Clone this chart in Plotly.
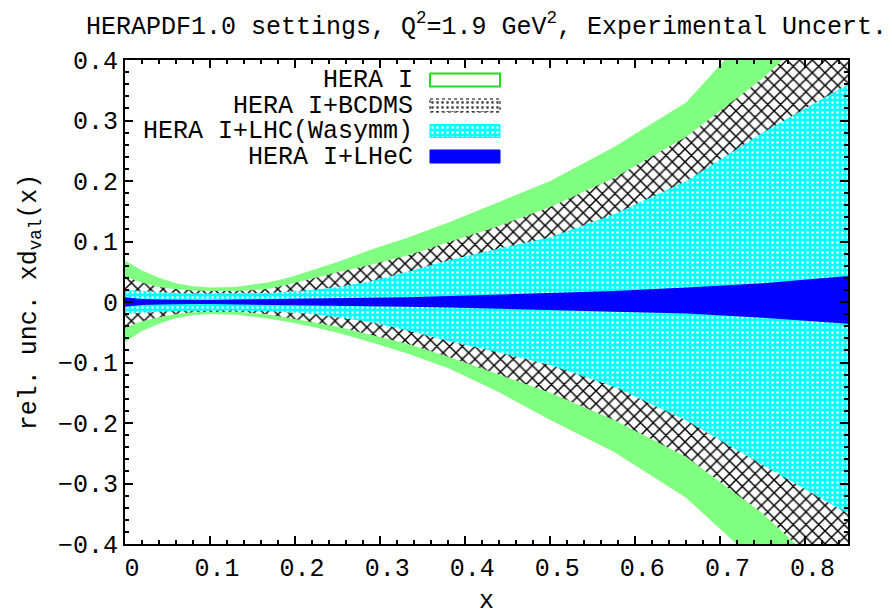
import plotly.graph_objects as go

# ---------------- data ----------------
x_vals = [0.0, 0.02, 0.04, 0.06, 0.08, 0.10, 0.13, 0.166, 0.192, 0.22, 0.25,
          0.288, 0.332, 0.381, 0.438, 0.50, 0.575, 0.66, 0.75, 0.85]

hera_up = [0.068, 0.052, 0.040, 0.031, 0.026, 0.024, 0.025, 0.032, 0.040, 0.052, 0.066,
           0.086, 0.106, 0.132, 0.164, 0.200, 0.256, 0.330, 0.470, 0.620]
hera_dn = [-0.066, -0.048, -0.036, -0.027, -0.022, -0.020, -0.021, -0.027, -0.033, -0.041, -0.051,
           -0.066, -0.085, -0.110, -0.148, -0.195, -0.248, -0.324, -0.440, -0.600]

bcdms_up = [0.042, 0.032, 0.025, 0.021, 0.019, 0.018, 0.018, 0.021, 0.029, 0.039, 0.049,
            0.061, 0.077, 0.099, 0.125, 0.157, 0.205, 0.273, 0.370, 0.500]
bcdms_dn = [-0.042, -0.032, -0.025, -0.020, -0.017, -0.016, -0.016, -0.020, -0.026, -0.033, -0.041,
            -0.054, -0.069, -0.091, -0.119, -0.150, -0.195, -0.256, -0.350, -0.480]

lhc_up = [0.020, 0.018, 0.016, 0.015, 0.014, 0.014, 0.014, 0.015, 0.017, 0.020, 0.025,
          0.034, 0.050, 0.069, 0.088, 0.107, 0.145, 0.200, 0.280, 0.360]
lhc_dn = [-0.020, -0.018, -0.016, -0.015, -0.014, -0.014, -0.014, -0.015, -0.017, -0.020, -0.025,
          -0.033, -0.047, -0.065, -0.083, -0.104, -0.140, -0.196, -0.270, -0.350]

lhec_up = [0.008, 0.005, 0.004, 0.0035, 0.0035, 0.0035, 0.004, 0.0045, 0.005, 0.0055, 0.006,
           0.007, 0.008, 0.010, 0.012, 0.015, 0.018, 0.024, 0.031, 0.043]
lhec_dn = [-0.008, -0.005, -0.004, -0.0035, -0.0035, -0.0035, -0.004, -0.0045, -0.005, -0.0055, -0.006,
           -0.007, -0.008, -0.009, -0.011, -0.013, -0.016, -0.019, -0.026, -0.036]

series_names = ["HERA I", "HERA I+BCDMS", "HERA I+LHC(Wasymm)", "HERA I+LHeC"]

y_tickvals = [0.4, 0.3, 0.2, 0.1, 0.0, -0.1, -0.2, -0.3, -0.4]
y_ticktext = ["0.4", "0.3", "0.2", "0.1", "0", "\u22120.1", "\u22120.2", "\u22120.3", "\u22120.4"]
x_tickvals = [0.0, 0.1, 0.2, 0.3, 0.4, 0.5, 0.6, 0.7, 0.8]
x_ticktext = ["0", "0.1", "0.2", "0.3", "0.4", "0.5", "0.6", "0.7", "0.8"]

# ---------------- styling ----------------
FONT = "Courier New, Liberation Mono, monospace"
FS = 25
W, H = 892, 616
ML, MR, MT, MB = 125, 44, 60, 72

GREEN = "#80ff80"
CYAN = "#00ffff"
BLUE = "#0000ff"

styles = [
    dict(fillcolor=GREEN),
    dict(fillcolor="white", fillpattern=dict(shape="x", fgcolor="black", bgcolor="white",
                                             size=9, solidity=0.3, fillmode="replace")),
    dict(fillcolor=CYAN, fillpattern=dict(shape=".", fgcolor="white", bgcolor=CYAN,
                                          size=5, solidity=0.2, fillmode="replace")),
    dict(fillcolor=BLUE),
]

fig = go.Figure()
bands = [(hera_up, hera_dn), (bcdms_up, bcdms_dn), (lhc_up, lhc_dn), (lhec_up, lhec_dn)]
for (up, dn), name, st in zip(bands, series_names, styles):
    fig.add_trace(go.Scatter(
        x=x_vals + x_vals[::-1], y=up + dn[::-1],
        mode="lines", fill="toself", line=dict(width=0, color=st["fillcolor"]),
        name=name, showlegend=False, hoverinfo="skip", **st))

# ---------------- manual legend (text left, key right) ----------------
pw, ph = W - ML - MR, H - MT - MB
def px_x(p):
    return (p - ML) / pw
def px_y(p):
    return 1 - (p - MT) / ph

row_y = [80, 105.5, 131, 156.5]
key_x0, key_x1, key_h = 430, 500, 13
text_right = 414
key_styles = [
    dict(fillcolor="white", line=dict(color="#22dd22", width=2)),
    dict(fillcolor="white", line=dict(color="black", width=1, dash="dot"),
         fillpattern=dict(shape=".", fgcolor="#555555", bgcolor="white", size=5, solidity=0.25, fillmode="replace")),
    dict(fillcolor=CYAN, line=dict(color=CYAN, width=1),
         fillpattern=dict(shape=".", fgcolor="white", bgcolor=CYAN, size=5, solidity=0.2, fillmode="replace")),
    dict(fillcolor=BLUE, line=dict(color=BLUE, width=1)),
]
for ry, name, ks in zip(row_y, series_names, key_styles):
    x0, x1 = px_x(key_x0), px_x(key_x1)
    y0, y1 = px_y(ry - key_h / 2), px_y(ry + key_h / 2)
    fig.add_trace(go.Scatter(
        x=[x0, x1, x1, x0, x0], y=[y0, y0, y1, y1, y0], xaxis="x2", yaxis="y2",
        mode="lines", fill="toself", showlegend=False, hoverinfo="skip", **ks))
    fig.add_annotation(x=px_x(text_right), y=px_y(ry), xref="x2", yref="y2",
                       text=name, showarrow=False, xanchor="right", yanchor="middle",
                       height=24, borderpad=0,
                       font=dict(family=FONT, size=FS, color="black"))

axis_common = dict(
    showgrid=False, zeroline=False, showline=True, linecolor="black", linewidth=2,
    mirror="allticks", ticks="inside", ticklen=8, tickwidth=1.5, tickcolor="black",
    automargin=False,
    tickfont=dict(family=FONT, size=FS, color="black"),
)

fig.update_layout(
    width=W, height=H,
    margin=dict(l=ML, r=MR, t=MT, b=MB, autoexpand=False),
    paper_bgcolor="white", plot_bgcolor="white",
    showlegend=False,
    title=dict(text="HERAPDF1.0 settings, Q<sup>2</sup>=1.9 GeV<sup>2</sup>, Experimental Uncert.",
               x=(ML + pw / 2) / W, xanchor="center", xref="container",
               y=1 - 25 / H, yanchor="middle", yref="container", automargin=False,
               font=dict(family=FONT, size=FS, color="black")),
    xaxis=dict(range=[0, 0.85], tickvals=x_tickvals, ticktext=x_ticktext,
               ticklabelshift=7,
               minor=dict(dtick=0.02, tick0=0, ticks="inside", ticklen=4, tickcolor="black", tickwidth=1.5),
               title=dict(text="x", font=dict(family=FONT, size=FS, color="black"), standoff=21),
               **axis_common),
    yaxis=dict(range=[-0.4, 0.4], tickvals=y_tickvals, ticktext=y_ticktext,
               minor=dict(dtick=0.02, tick0=0, ticks="inside", ticklen=4, tickcolor="black", tickwidth=1.5),
               title=dict(text="rel. unc. xd<sub>val</sub>(x)", font=dict(family=FONT, size=FS, color="black"),
                          standoff=14),
               **axis_common),
    xaxis2=dict(range=[0, 1], overlaying="x", visible=False, fixedrange=True),
    yaxis2=dict(range=[0, 1], overlaying="y", visible=False, fixedrange=True),
)

fig.write_html("out.html", config={"displayModeBar": False},
               post_script="document.body.style.margin='0px';")
